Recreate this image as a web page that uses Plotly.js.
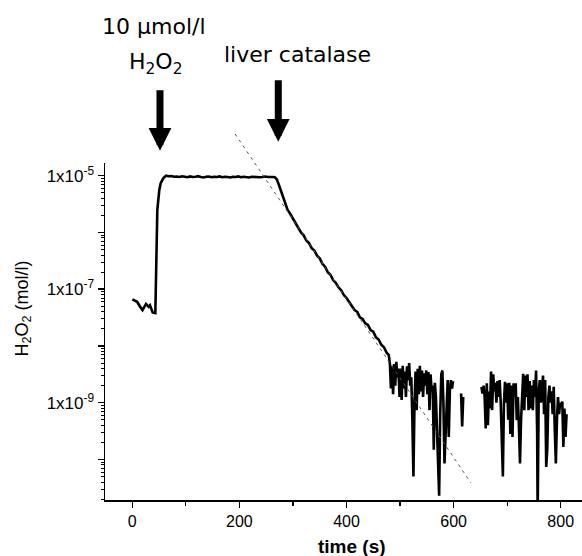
<!DOCTYPE html>
<html>
<head>
<meta charset="utf-8">
<script src="https://cdn.plot.ly/plotly-3.0.1.min.js"></script>
<style>html,body{margin:0;padding:0;background:#fff;}</style>
</head>
<body>
<div id="chart" style="width:582px;height:556px;"></div>
<script>
// time (s)
const timeS = [
  0, 4, 9, 14, 19, 22, 25.6, 28, 30.6, 33, 36, 38, 43,
  44.3, 46.7, 50.4, 53, 58, 63,
  68, 73, 78, 83, 88, 93, 98, 103, 108, 113, 118, 123, 128, 133, 138, 143, 148, 153, 158, 163,
  168, 173, 178, 183, 188, 193, 198, 203, 208, 213, 218, 223, 228, 233, 238, 243, 248, 253, 258, 263,
  266, 270, 274, 278, 282, 286, 290, 294, 298, 302, 306, 310, 315,
  320, 325, 330, 335, 340, 345, 350, 355, 360, 365, 370, 375, 380, 385, 390, 395, 400,
  405, 410, 415, 420, 425, 430, 435, 440, 445, 450, 455, 460, 465, 470, 475, 479,
  481, 483, 485, 487, 489, 491, 493, 495, 497, 499, 501, 503, 505, 507, 509, 511, 513, 515, 517, 519,
  521, 523, 525, 527, 529, 531, 533, 535, 537, 539, 541, 543, 545, 547, 549, 551, 553, 555, 557, 559,
  561, 563, 565, 567, 569, 571, 573, 575, 577, 579, 581, 583, 585, 587, 589, 591, 593, 595, 597, 599,
  605, 614, 616, 618, 630,
  652, 654, 656, 658, 660, 662, 664, 666, 668, 670, 672, 674, 676, 678, 680, 682, 684, 686, 688, 690,
  692, 694, 696, 698, 700, 702, 704, 706, 708, 710, 712, 714, 716, 718, 720, 722, 724, 726, 728, 730,
  732, 734, 736, 738, 740, 742, 744, 746, 748, 750, 752, 754, 756, 757, 759, 761, 763, 765, 767, 769,
  771, 773, 775, 777, 779, 781, 783, 785, 787, 789, 791, 793, 795, 797, 799, 801, 803, 805, 807, 809, 811
];
// H2O2 concentration (mol/l)
const h2o2Mol = [
  6.6e-8, 6.3e-8, 6.0e-8, 5.0e-8, 4.3e-8, 4.8e-8, 5.5e-8, 5.2e-8, 4.9e-8, 5.2e-8, 4.5e-8, 3.9e-8, 3.8e-8,
  3.2e-7, 2.5e-6, 5.6e-6, 7.4e-6, 9.1e-6, 1.0e-5,
  9.8e-6, 9.9e-6, 9.6e-6, 9.7e-6, 9.5e-6, 9.8e-6, 9.6e-6, 9.4e-6, 9.7e-6, 9.5e-6, 9.6e-6, 9.8e-6, 9.5e-6, 9.3e-6, 9.6e-6, 9.7e-6, 9.4e-6, 9.6e-6, 9.5e-6, 9.7e-6,
  9.4e-6, 9.6e-6, 9.5e-6, 9.3e-6, 9.6e-6, 9.5e-6, 9.7e-6, 9.4e-6, 9.6e-6, 9.5e-6, 9.3e-6, 9.6e-6, 9.5e-6, 9.6e-6, 9.4e-6, 9.5e-6, 9.7e-6, 9.5e-6, 9.6e-6, 9.5e-6,
  9.4e-6, 8.6e-6, 6.8e-6, 5.2e-6, 4.0e-6, 3.0e-6, 2.5e-6, 2.2e-6, 1.9e-6, 1.6e-6, 1.4e-6, 1.2e-6, 1.0e-6,
  8.9e-7, 7.2e-7, 6.5e-7, 5.3e-7, 4.8e-7, 3.9e-7, 3.5e-7, 2.8e-7, 2.5e-7, 2.0e-7, 1.8e-7, 1.45e-7, 1.3e-7, 1.08e-7, 9.6e-8, 7.9e-8, 7.0e-8,
  5.9e-8, 5.2e-8, 4.3e-8, 4.0e-8, 3.2e-8, 3.0e-8, 2.5e-8, 2.35e-8, 1.9e-8, 1.78e-8, 1.42e-8, 1.3e-8, 1.05e-8, 9.5e-9, 7.6e-9, 6.9e-9,
  4.9e-9, 1.78e-9, 4.47e-9, 1.41e-9, 4.8e-9, 2.0e-9, 5.25e-9, 2.8e-9, 3.98e-9, 1.26e-9, 3.98e-9, 1.12e-9, 4.47e-9, 1.78e-9, 3.55e-9, 1.26e-9, 4.37e-9, 2.5e-9, 5.0e-9, 2.0e-9,
  2.8e-9, 5.0e-10, 5.0e-11, 1.0e-9, 3.55e-9, 7.4e-10, 3.98e-9, 1.41e-9, 4.47e-9, 1.58e-9, 3.7e-9, 1.26e-9, 3.3e-9, 2.0e-9, 3.7e-9, 1.41e-9, 3.47e-9, 7.4e-10, 3.16e-9, 1.58e-9,
  2.0e-9, 1.48e-10, 2.24e-9, 1.26e-9, 3.2e-10, 6.3e-11, 2.3e-11, 6.3e-10, 3.16e-9, 3.7e-9, 1.0e-9, 8.5e-11, 3.2e-10, 1.58e-9, 2.5e-9, 2.5e-10, 1.58e-9, 2.5e-9, 1.78e-9, 2.4e-9,
  null, 1.45e-9, 3.8e-10, 1.26e-9, null,
  1.9e-9, 1.45e-9, 2.0e-9, 1.26e-9, 3.5e-10, 2.19e-9, 4.0e-10, 1.58e-9, 7.9e-10, 3.55e-9, 7.4e-10, 3.16e-9, 1.58e-9, 2.24e-9, 1.0e-9, 2.4e-9, 1.26e-9, 2.5e-9, 1.0e-9, 1.0e-10,
  5.0e-11, 1.0e-9, 2.34e-9, 1.0e-9, 2.19e-9, 5.0e-10, 2.24e-9, 2.8e-10, 2.0e-9, 2.5e-10, 2.19e-9, 1.26e-9, 2.19e-9, 4.9e-10, 1.26e-9, 3.8e-10, 8.5e-11, 5.0e-10, 2.0e-9, 3.24e-9,
  7.4e-10, 3.0e-9, 1.26e-9, 3.16e-9, 7.4e-10, 2.4e-9, 7.9e-10, 2.0e-9, 7.4e-10, 2.5e-9, 1.26e-9, 3.7e-9, 3.2e-10, 1.0e-11, 1.58e-9, 2.5e-9, 1.0e-9, 2.0e-9, 3.0e-9, 6.3e-10,
  2.5e-9, 7.4e-11, 1.58e-10, 1.26e-9, 2.0e-9, 1.0e-9, 1.58e-9, 6.3e-10, 1.9e-9, 3.2e-10, 8.5e-11, 5.0e-10, 1.26e-9, 6.3e-10, 1.0e-9, 8.9e-10, 1.05e-9, 1.66e-10, 7.9e-10, 2.5e-10, 6.3e-10
];
// dashed exponential-decay guide line (end points)
const fitTime = [192, 632];
const fitMol = [5.43e-5, 3.9e-11];

const xTickVals = [0, 200, 400, 600, 800];
const xMinorVals = [100, 300, 500, 700];
const yTickVals = [1e-10, 1e-9, 1e-8, 1e-7, 1e-6, 1e-5];
const yTickText = ['', '1x10<sup>-9</sup>', '', '1x10<sup>-7</sup>', '', '1x10<sup>-5</sup>'];

const yMinorVals = [];
for (let e = -11; e <= -5; e++) {
  for (let m = 2; m <= 9; m++) yMinorVals.push(m * Math.pow(10, e));
}

const PLOT_TOP = 125, PLOT_BOTTOM = 500, AXIS_TOP = 163;
const yDomTop = (PLOT_BOTTOM - AXIS_TOP) / (PLOT_BOTTOM - PLOT_TOP);
const yLo = -10.7145, yHi = -4.776;
const pxPerDec = (PLOT_BOTTOM - AXIS_TOP) / (yHi - yLo);
const y2Hi = yHi + (AXIS_TOP - PLOT_TOP) / pxPerDec;

const FAM = 'Liberation Sans, Arial, sans-serif';
const annFont = {family: 'DejaVu Sans, sans-serif', size: 22, color: '#000'};

const traces = [
  {
    x: fitTime, y: fitMol, xaxis: 'x', yaxis: 'y2', mode: 'lines',
    line: {color: '#555', width: 1, dash: '3px,4px'}, hoverinfo: 'skip'
  },
  {
    x: timeS, y: h2o2Mol, xaxis: 'x', yaxis: 'y', mode: 'lines', connectgaps: false,
    line: {color: '#000', width: 2.6}
  }
];

function py(p) { return (PLOT_BOTTOM - p) / (PLOT_BOTTOM - PLOT_TOP); }
function px(p) { return (p - 105) / (582 - 105); }

const layout = {
  width: 582, height: 556,
  margin: {l: 105, r: 0, t: PLOT_TOP, b: 556 - PLOT_BOTTOM, pad: 0},
  paper_bgcolor: '#fff', plot_bgcolor: 'rgba(0,0,0,0)',
  showlegend: false,
  xaxis: {
    range: [-51, 839.8], anchor: 'y',
    tickmode: 'array', tickvals: xTickVals, ticktext: xTickVals.map(String),
    ticks: 'outside', ticklen: 6, tickwidth: 1.5, tickcolor: '#000',
    showline: true, linewidth: 1.5, linecolor: '#000',
    showgrid: false, zeroline: false, tickfont: {family: FAM, size: 16, color: '#000'},
    minor: {tickmode: 'array', tickvals: xMinorVals, ticks: 'outside', ticklen: 4, tickwidth: 1.2, tickcolor: '#000', showgrid: false}
  },
  yaxis: {
    type: 'log', range: [yLo, yHi], domain: [0, yDomTop], anchor: 'x',
    tickmode: 'array', tickvals: yTickVals, ticktext: yTickText,
    ticks: 'outside', ticklen: 6, tickwidth: 1.5, tickcolor: '#000',
    showline: true, linewidth: 1.5, linecolor: '#000',
    showgrid: false, zeroline: false, tickfont: {family: FAM, size: 17, color: '#000'},
    minor: {tickmode: 'array', tickvals: yMinorVals, ticks: 'outside', ticklen: 3, tickwidth: 1, tickcolor: '#000', showgrid: false}
  },
  yaxis2: {
    type: 'log', range: [yLo, y2Hi], domain: [0, 1], anchor: 'x', visible: false
  },
  annotations: [
    {text: '10 µmol/l', xref: 'paper', yref: 'paper', x: px(154), y: py(26), showarrow: false, font: annFont, xanchor: 'center', yanchor: 'middle'},
    {text: 'H<sub>2</sub>O<sub>2</sub>', xref: 'paper', yref: 'paper', x: px(155), y: py(64), showarrow: false, font: annFont, xanchor: 'center', yanchor: 'middle'},
    {text: 'liver catalase', xref: 'paper', yref: 'paper', x: px(297.5), y: py(55), showarrow: false, font: annFont, xanchor: 'center', yanchor: 'middle'},
    {text: '', xref: 'x', yref: 'paper', x: 51.7, y: py(150.7), showarrow: true, ax: 0, ay: -62,
     arrowhead: 2, arrowsize: 0.65, arrowwidth: 7, arrowcolor: '#000'},
    {text: '', xref: 'x', yref: 'paper', x: 272.6, y: py(141.7), showarrow: true, ax: 0, ay: -63,
     arrowhead: 2, arrowsize: 0.65, arrowwidth: 7, arrowcolor: '#000'},
    {text: 'H<sub>2</sub>O<sub>2</sub> (mol/l)', xref: 'paper', yref: 'paper', x: px(23), y: py(308.5), textangle: -90,
     showarrow: false, font: {family: FAM, size: 18, color: '#000'}, xanchor: 'center', yanchor: 'middle'},
    {text: '<b>time (s)</b>', xref: 'paper', yref: 'paper', x: px(351.5), y: py(546.5), showarrow: false,
     font: {family: FAM, size: 19, color: '#000'}, xanchor: 'center', yanchor: 'middle'}
  ]
};

Plotly.newPlot('chart', traces, layout, {staticPlot: true, displayModeBar: false});
</script>
</body>
</html>
